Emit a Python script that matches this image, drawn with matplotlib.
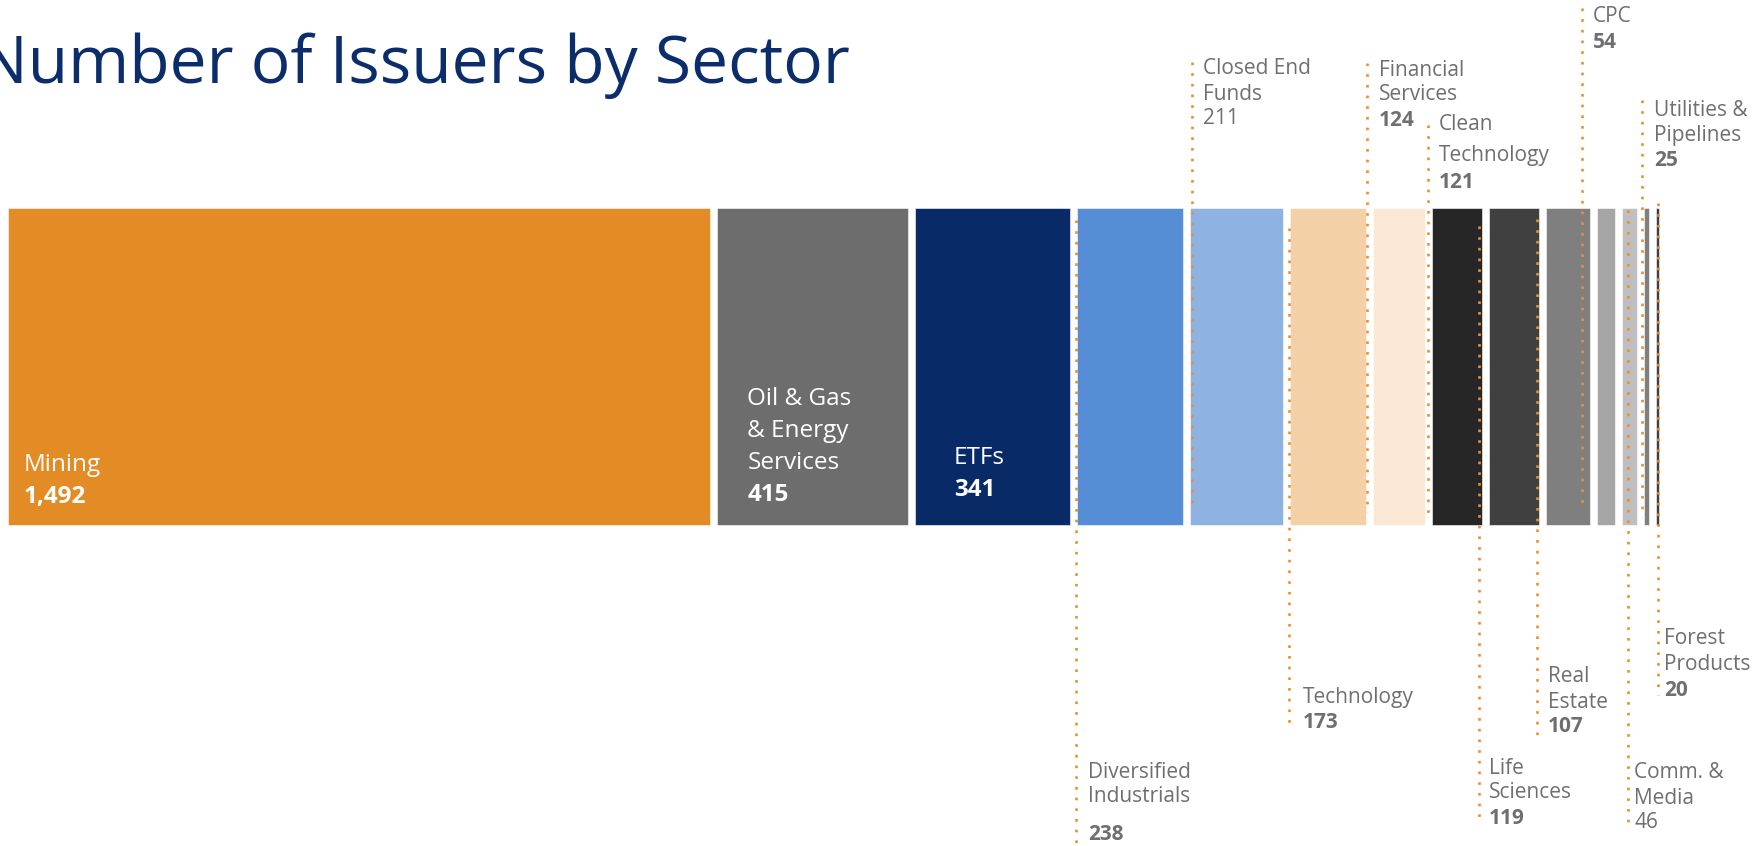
"""Number of issuers by sector: variable-width (mekko style) bar strip."""

import matplotlib
matplotlib.use("Agg")
import matplotlib.pyplot as plt
import numpy as np

# ---- data -----------------------------------------------------------------
sectors = ["Mining", "Oil & Gas\n& Energy\nServices", "ETFs",
           "Diversified\nIndustrials", "Closed End\nFunds", "Technology",
           "Financial\nServices", "Clean\nTechnology", "Life\nSciences",
           "Real\nEstate", "CPC", "Comm. &\nMedia", "Utilities &\nPipelines",
           "Forest\nProducts"]
issuers = [1492, 415, 341, 238, 211, 173, 124, 121, 119, 107, 54, 46, 25, 20]
value_text = ["1,492", "415", "341", "238", "211", "173", "124", "121", "119",
              "107", "54", "46", "25", "20"]
value_bold = [True, True, True, True, False, True, True, True, True, True,
              True, False, True, True]

colours = ["#E38B24", "#6D6D6D", "#082A66", "#558ED5", "#8EB3E2", "#F3D0A6",
           "#FAE8D5", "#262626", "#404040", "#7F7F7F", "#A6A6A6", "#BFBFBF",
           "#7F7F7F", "#404040"]

# label layout (pixels; y measured from the top of the figure) --------------
label_kind = ["in", "in", "in", "out", "out", "out", "out", "out", "out",
              "out", "out", "out", "out", "out"]
leader_dx = [0, 0, 0, -1, 2, -1, -6, -4, -10, -9, -15, 6, -2, 2]
text_dx = [16, 30, 39, 12, 11, 13, 12, 11, 10, 11, 11, 6, 12, 6]
leader_y = [None, None, None, (220, 846), (62, 510), (228, 730), (63, 512),
            (125, 520), (226, 823), (219, 742), (8, 510), (210, 830),
            (100, 517), (203, 695)]
first_line_y = [465, 399, 458, 772, 68, 697, 70, 125, 768, 676, 17, 773,
                110, 639]
line_step = [32, 32, 32, 25, 26, 0, 25, 30, 25, 27, 0, 25, 25, 26]
value_gap = [32, 32, 32, 38, 25, 25, 25, 27, 25, 24, 26, 25, 25, 25]

W, H = 1756, 846
X0, K = 8.0, 0.4755          # px of value 0, px per issuer
GAP = 7.0 / K                # white gap between bars, in issuer units
BAR_TOP, BAR_H = 208, 317

ORANGE = "#E8912C"
GREY_TXT = "#6F6F6F"
FONT = ["Open Sans", "DejaVu Sans"]

fig = plt.figure(figsize=(W / 100, H / 100), dpi=100)
ax = fig.add_axes([0, 0, 1, 1])
ax.set_xlim(-X0 / K, (W - X0) / K)
ax.set_ylim(H, 0)
ax.axis("off")

left = np.concatenate([[0], np.cumsum(issuers)[:-1]])
widths = np.maximum(np.array(issuers) - GAP, 3.0)
ax.bar(left, BAR_H, width=widths, bottom=BAR_TOP, align="edge",
       color=colours, edgecolor="white", linewidth=0.4)

for i, name in enumerate(sectors):
    lines = name.split("\n")
    x_txt = left[i] + (leader_dx[i] + text_dx[i]) / K
    y = first_line_y[i]
    if label_kind[i] == "in":
        col, fs = "white", 17.5
    else:
        col, fs = GREY_TXT, 15
        xl = left[i] + leader_dx[i] / K
        ax.plot([xl, xl], leader_y[i], color=ORANGE, lw=1.9,
                ls=(0, (1, 3.05)), dash_capstyle="butt", zorder=3)
    for j, ln in enumerate(lines):
        ax.text(x_txt, y + j * line_step[i], ln, color=col, fontsize=fs,
                family=FONT, ha="left", va="center")
    y_val = y + (len(lines) - 1) * line_step[i] + value_gap[i]
    ax.text(x_txt, y_val, value_text[i], color=col, fontsize=fs,
            family=FONT, ha="left", va="center",
            fontweight="bold" if value_bold[i] else "normal")

fig.text(-22 / W, 1 - 83 / H, "Number of Issuers by Sector", color="#0B2D6B",
         fontsize=47.5, family=FONT, ha="left", va="baseline")

fig.savefig("out.png", dpi=100)
